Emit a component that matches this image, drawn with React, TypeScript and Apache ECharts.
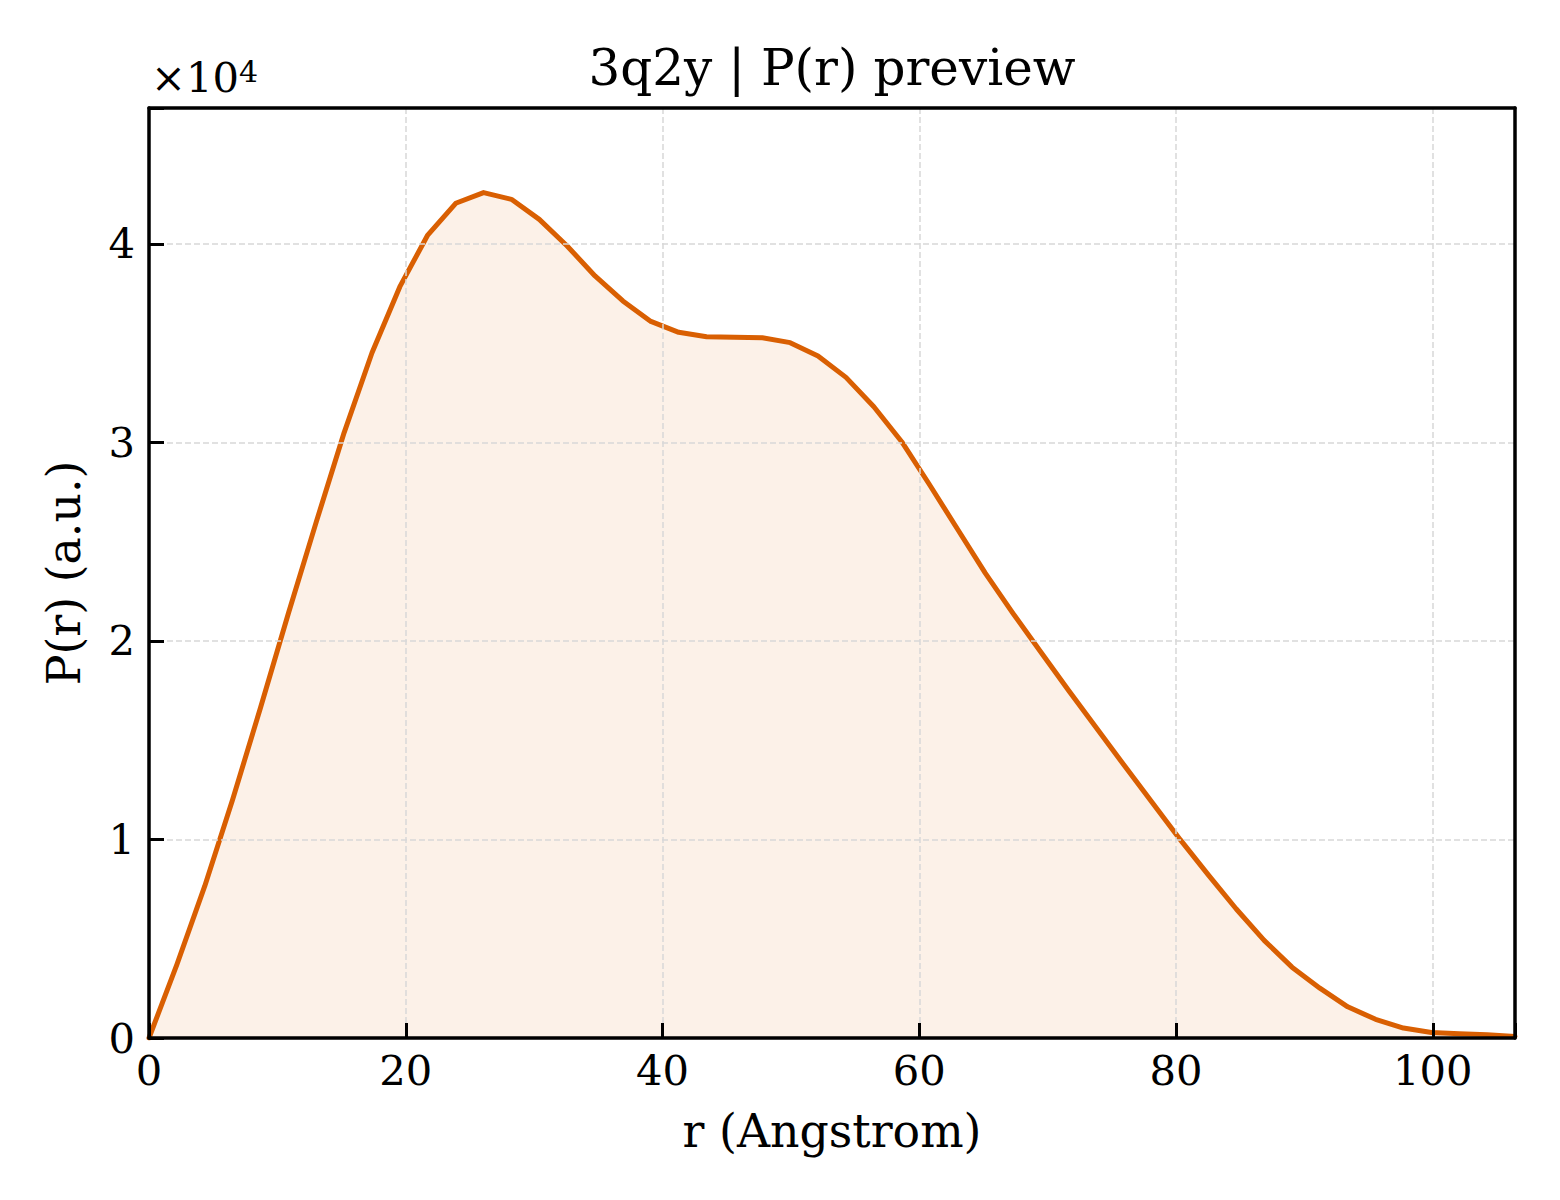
import { useEffect, useRef } from "react";
import * as echarts from "echarts";

// r grid (Angstrom)
const rValues = [
  0, 2.17, 4.34, 6.51, 8.69, 10.86, 13.03, 15.2, 17.37, 19.54,
  21.71, 23.89, 26.06, 28.23, 30.4, 32.57, 34.74, 36.91, 39.09, 41.26,
  43.43, 45.6, 47.77, 49.94, 52.11, 54.29, 56.46, 58.63, 60.8, 62.97,
  65.14, 67.31, 69.49, 71.66, 73.83, 76.0, 78.17, 80.34, 82.51, 84.69,
  86.86, 89.03, 91.2, 93.37, 95.54, 97.71, 99.89, 102.06, 104.23, 106.4,
];

// P(r) values (a.u.)
const pValues = [
  0, 3700, 7650, 12000, 16650, 21400, 26000, 30500, 34520, 37850,
  40450, 42050, 42590, 42250, 41240, 39900, 38390, 37130, 36100, 35550,
  35330, 35300, 35280, 35030, 34360, 33280, 31800, 30040, 27870, 25640,
  23420, 21380, 19420, 17480, 15590, 13700, 11840, 9980, 8220, 6500,
  4920, 3570, 2510, 1570, 940, 500, 280, 210, 170, 80,
];

const xMax = 106.4;
const yMax = 46850;
const xStep = 20;
const yStep = 10000;
const yScaleExp = 4;

const titleText = "3q2y | P(r) preview";
const xName = "r (Angstrom)";
const yName = "P(r) (a.u.)";

const FONT = "DejaVu Serif";
const LINE = "#d95f02";

export default function App() {
  const ref = useRef<HTMLDivElement>(null);

  useEffect(() => {
    document.body.style.margin = "0";
    if (!ref.current) return;
    const chart = echarts.init(ref.current, undefined, { renderer: "svg" });
    const axisLineStyle = { color: "#000", width: 3.5 };
    const tickStyle = { color: "#000", width: 3 };
    const splitLineStyle = { color: "#d8d8d8", width: 1.5, type: [6, 3] as number[] };
    const frameAxis = {
      type: "value",
      min: 0,
      z: 10,
      axisLine: { show: true, onZero: false, lineStyle: axisLineStyle },
      axisTick: { show: false },
      axisLabel: { show: false },
      splitLine: { show: false },
    };
    chart.setOption({
      animation: false,
      backgroundColor: "#fff",
      title: {
        text: titleText,
        left: 832,
        top: 43,
        padding: 0,
        textAlign: "center",
        textVerticalAlign: "top",
        textStyle: { fontFamily: FONT, fontSize: 50, fontWeight: "normal", color: "#000" },
      },
      graphic: [
        {
          type: "text",
          x: 151,
          y: 77,
          style: {
            text: "{b|×10}{s|" + yScaleExp + "}",
            verticalAlign: "middle",
            align: "left",
            rich: {
              b: { fontFamily: FONT, fontSize: 41.7, fill: "#000", verticalAlign: "middle" },
              s: { fontFamily: FONT, fontSize: 30, fill: "#000", verticalAlign: "top" },
            },
          },
        },
      ],
      grid: {
        left: 149,
        right: 45,
        top: 108,
        bottom: 162,
        show: false,
      },
      xAxis: [
        {
          type: "value",
          min: 0,
          max: xMax,
          interval: xStep,
          z: 5,
          name: xName,
          nameLocation: "middle",
          nameGap: 70,
          nameTextStyle: { fontFamily: FONT, fontSize: 45.8, color: "#000" },
          axisLine: { show: true, onZero: false, lineStyle: axisLineStyle },
          axisTick: { show: true, inside: true, length: 15, lineStyle: tickStyle },
          axisLabel: {
            fontFamily: FONT,
            fontSize: 41.7,
            color: "#000",
            margin: 11,
            formatter: (v: number) => (Math.abs(v % xStep) < 1e-9 ? String(v) : ""),
          },
          splitLine: { show: true, lineStyle: splitLineStyle },
        },
        { ...frameAxis, max: xMax, position: "top" },
      ],
      yAxis: [
        {
          type: "value",
          min: 0,
          max: yMax,
          interval: yStep,
          z: 5,
          name: yName,
          nameLocation: "middle",
          nameRotate: 90,
          nameGap: 62,
          nameTextStyle: { fontFamily: FONT, fontSize: 45.8, color: "#000" },
          axisLine: { show: true, onZero: false, lineStyle: axisLineStyle },
          axisTick: { show: true, inside: true, length: 15, lineStyle: tickStyle },
          axisLabel: {
            fontFamily: FONT,
            fontSize: 41.7,
            color: "#000",
            margin: 14,
            formatter: (v: number) =>
              Math.abs(v % yStep) < 1e-9 ? String(v / Math.pow(10, yScaleExp)) : "",
          },
          splitLine: { show: true, lineStyle: splitLineStyle },
        },
        { ...frameAxis, max: yMax, position: "right" },
      ],
      series: [
        {
          type: "line",
          xAxisIndex: 0,
          yAxisIndex: 0,
          data: rValues.map((r, i) => [r, pValues[i]]),
          showSymbol: false,
          symbol: "none",
          smooth: false,
          clip: true,
          z: 3,
          lineStyle: { color: LINE, width: 5, join: "round", cap: "round" },
          areaStyle: { color: "rgba(217,95,2,0.13)" },
        },
      ],
    });
    return () => chart.dispose();
  }, []);

  return <div ref={ref} style={{ width: 1560, height: 1200 }} />;
}
